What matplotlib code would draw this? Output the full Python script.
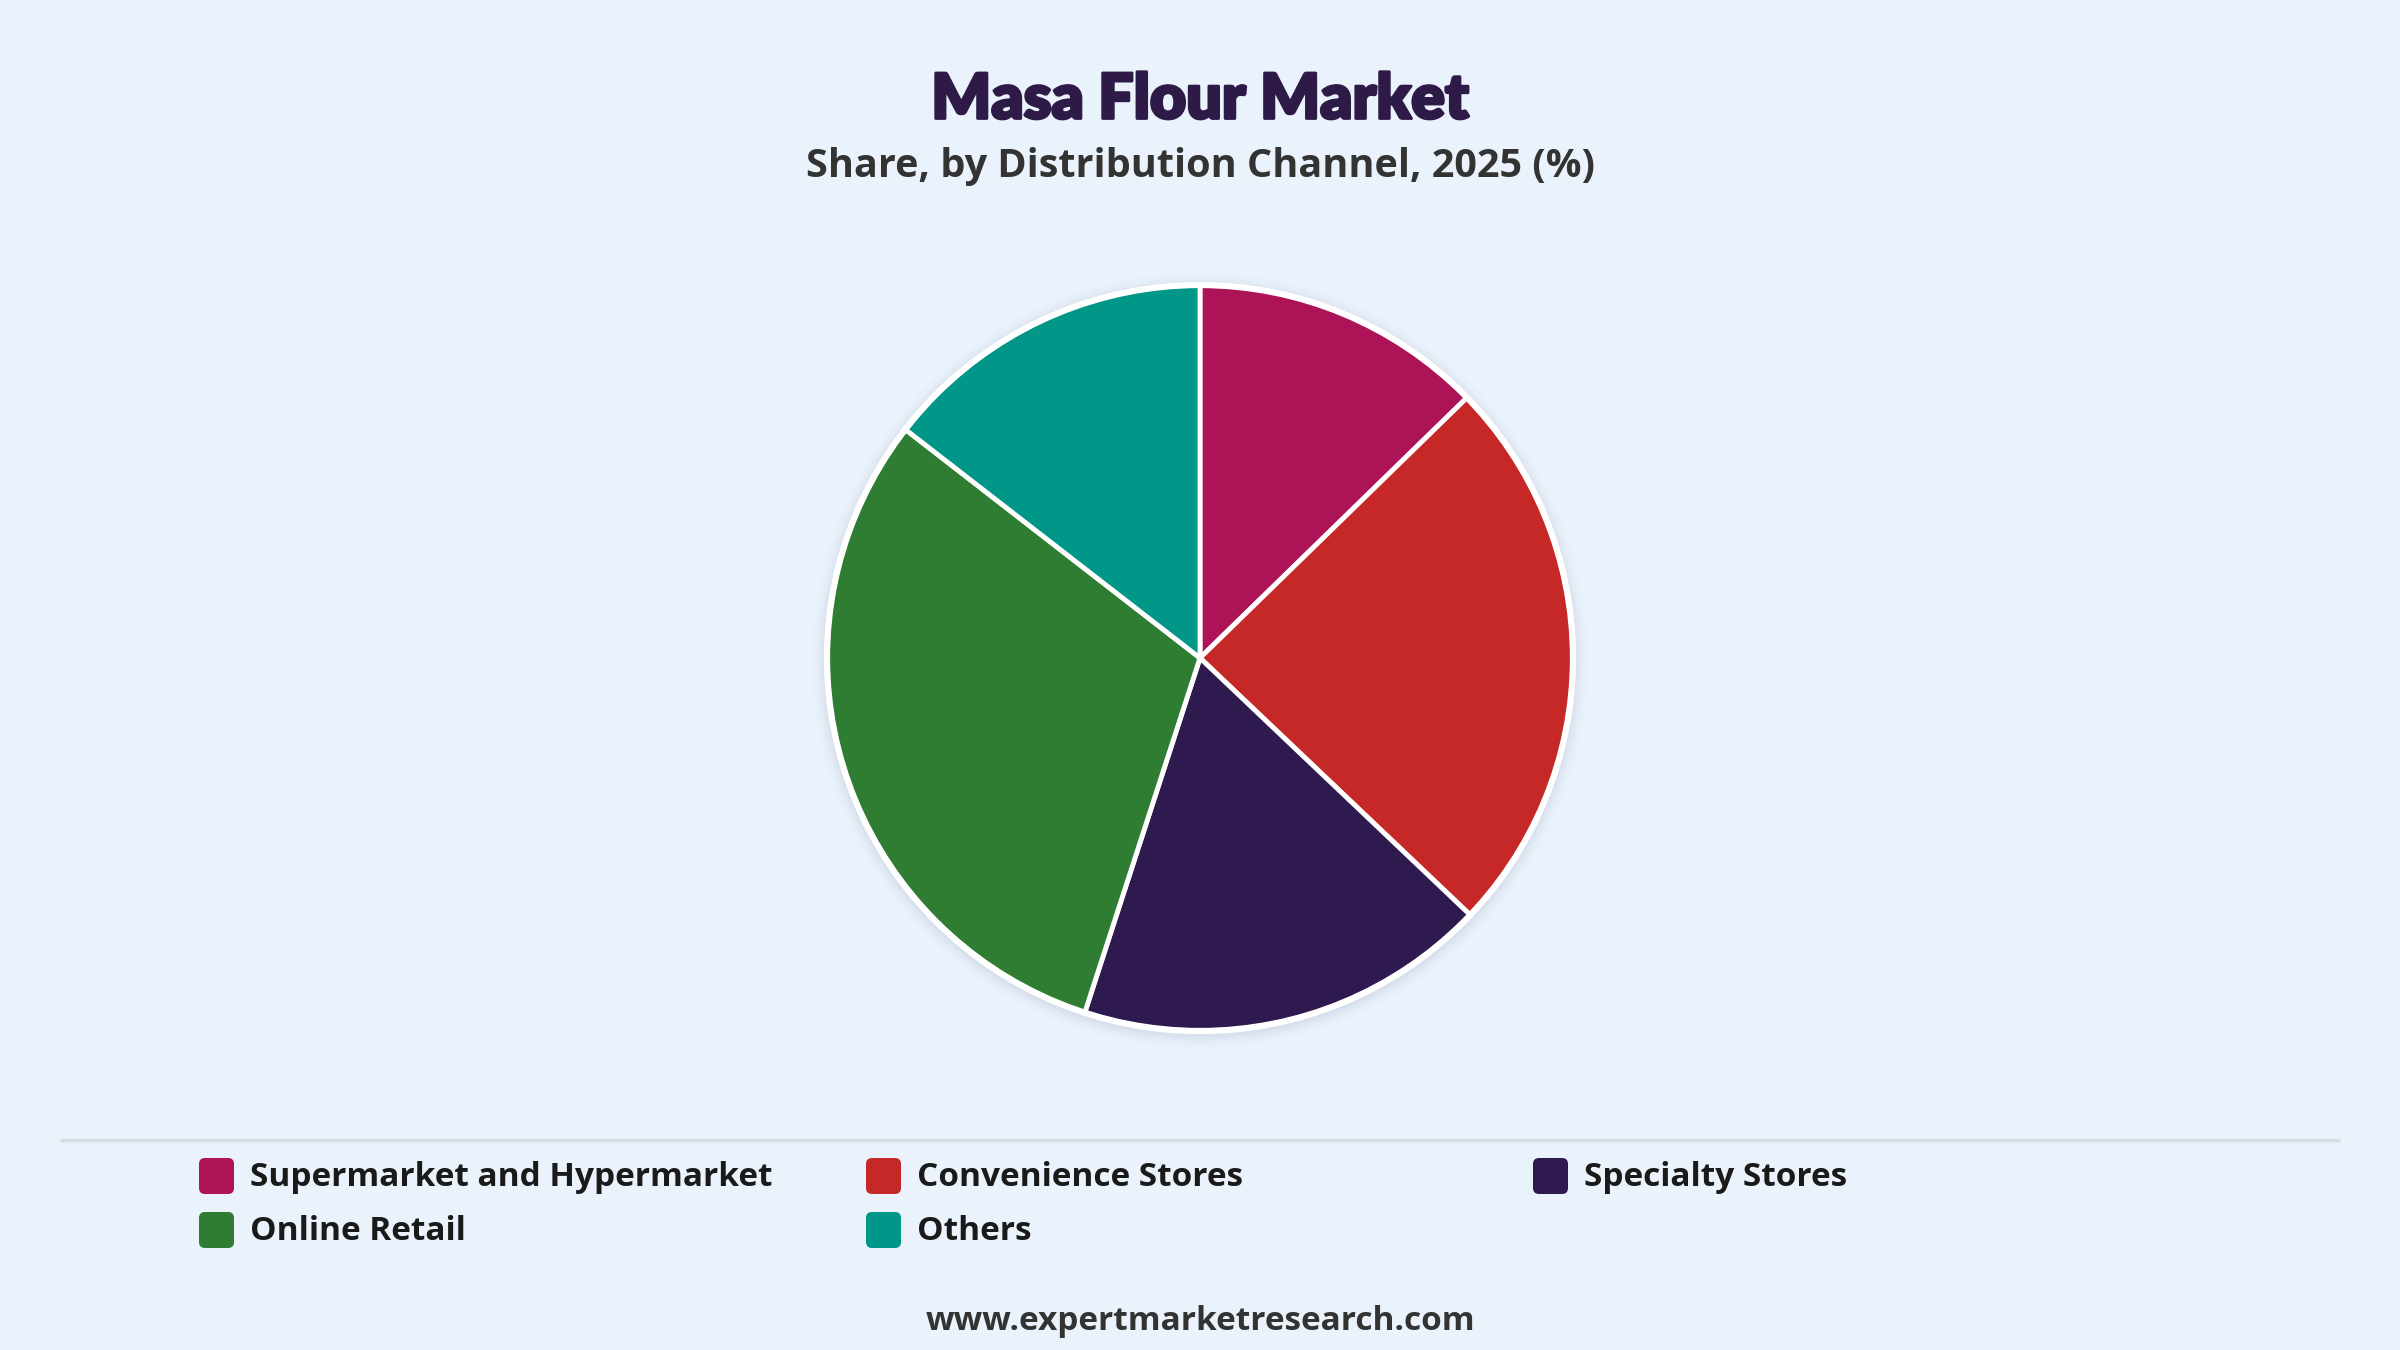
import numpy as np
import matplotlib
matplotlib.use("Agg")
import matplotlib.pyplot as plt
import matplotlib.patheffects as pe
from matplotlib.patches import FancyBboxPatch, Circle

# datos del grafico
categories = ["Supermarket and Hypermarket", "Convenience Stores", "Specialty Stores",
              "Online Retail", "Others"]
shares = [12.7, 24.4, 17.9, 30.5, 14.5]
colors = ["#AD1457", "#C62828", "#2E1A4F", "#2E7D32", "#009688"]

title = "Masa Flour Market"
subtitle = "Share, by Distribution Channel, 2025 (%)"
footer = "www.expertmarketresearch.com"

bgcolor = "#EAF2FB"
W, H = 2400, 1350

fig = plt.figure(figsize=(24, 13.5), dpi=100, facecolor=bgcolor)

# capa de fondo en coordenadas de pixel
bg = fig.add_axes([0, 0, 1, 1])
bg.set_xlim(0, W)
bg.set_ylim(H, 0)
bg.axis("off")
bg.set_facecolor(bgcolor)

bg.text(W / 2, 100, title, ha="center", va="center", fontsize=45,
        fontweight="heavy", color="#2E1A47", family=["Lato", "DejaVu Sans"],
        path_effects=[pe.withStroke(linewidth=2, foreground="#2E1A47")])
bg.text(W / 2, 166, subtitle, ha="center", va="center", fontsize=28.5,
        fontweight="bold", color="#333333", family=["Open Sans", "DejaVu Sans"])

# linea separadora
bg.plot([60, 2340], [1140, 1140], color="#D8DCE0", lw=2.5, solid_capstyle="butt")

# leyenda manual
col_x = [199, 866, 1533]
row_y = [1176, 1230]
for i, (lab, c) in enumerate(zip(categories, colors)):
    x = col_x[i % 3]
    y = row_y[i // 3]
    box = FancyBboxPatch((x + 4, y - 14), 27, 28, boxstyle="round,pad=4,rounding_size=6",
                         facecolor=c, edgecolor="none")
    bg.add_patch(box)
    bg.text(x + 51, y + 2, lab, ha="left", va="center", fontsize=24, fontweight="bold",
            color="#1A1A1A", family=["Open Sans", "DejaVu Sans"])

bg.text(W / 2, 1321, footer, ha="center", va="center", fontsize=24, fontweight="bold",
        color="#333333", family=["Open Sans", "DejaVu Sans"])

# pastel
cx, cy, half = 1200, 658, 400
ax = fig.add_axes([(cx - half) / W, (H - cy - half) / H, 2 * half / W, 2 * half / H])
r = 373 / 400.0

# sombra suave
for k, a in zip([14, 10, 7, 4], [0.025, 0.035, 0.05, 0.07]):
    ax.add_patch(Circle((0, -0.006), r + k / 400.0, facecolor="#8899AA", alpha=a,
                        edgecolor="none", zorder=0))

wedges, _ = ax.pie(shares, colors=colors, startangle=90, counterclock=False,
                   radius=r, wedgeprops=dict(edgecolor="white", linewidth=3.5))
for w in wedges:
    w.set_zorder(2)
ax.add_patch(Circle((0, 0), r, facecolor="none", edgecolor="white", lw=4.5, zorder=3))
ax.set_xlim(-1, 1)
ax.set_ylim(-1, 1)
ax.set_aspect("equal")
ax.axis("off")

fig.savefig("out.png", dpi=100, facecolor=bgcolor)
